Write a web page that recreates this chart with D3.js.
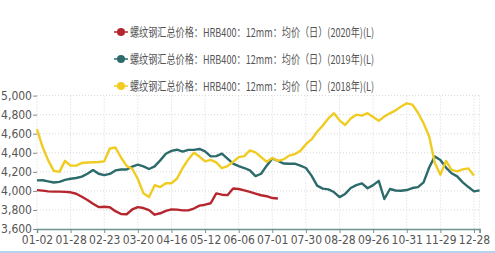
<!DOCTYPE html>
<html>
<head>
<script src="https://d3js.org/d3.v7.min.js"></script>
<style>
    body {
        margin: 0;
        background: #fff;
    }
    .narrow {
        font-family: "Liberation Sans Narrow", "DejaVu Sans Condensed", "Liberation Sans", sans-serif;
    }
</style>
</head>
<body>
<div id="chart"></div>
<script>
    var width = 495;
    var height = 253;

    // x axis: trading-day index, one label every 18 days
    var tickLabels = ["01-02", "01-28", "02-23", "03-20", "04-16", "05-12", "06-06",
        "07-01", "07-30", "08-28", "09-26", "10-31", "11-29", "12-28"];
    var labelEvery = 18;
    var lastIndex = 237;
    var step = 3; // values below were read every 3rd day

    var yTicks = [3600, 3800, 4000, 4200, 4400, 4600, 4800, 5000];

    var seriesNames = [
        "螺纹钢汇总价格：HRB400：12mm：均价（日）(2020年)(L)",
        "螺纹钢汇总价格：HRB400：12mm：均价（日）(2019年)(L)",
        "螺纹钢汇总价格：HRB400：12mm：均价（日）(2018年)(L)"
    ];
    var seriesColors = ["#b5262f", "#2c6a6b", "#f0cc22"];

    var price2020 = [4008, 4003, 3995, 3992, 3992, 3990, 3985, 3970, 3938, 3905,
        3866, 3830, 3834, 3828, 3787, 3757, 3755, 3805, 3830, 3820,
        3798, 3750, 3765, 3790, 3806, 3803, 3795, 3795, 3815, 3845,
        3855, 3870, 3974, 3960, 3955, 4025, 4020, 4005, 3990, 3972,
        3954, 3944, 3925, 3920];

    var price2019 = [4110, 4112, 4100, 4088, 4095, 4115, 4127, 4135, 4150, 4180,
        4218, 4180, 4165, 4178, 4215, 4225, 4225, 4255, 4275, 4258,
        4230, 4258, 4320, 4390, 4420, 4432, 4412, 4430, 4430, 4440,
        4415, 4362, 4365, 4390, 4338, 4285, 4260, 4240, 4215, 4155,
        4180, 4265, 4340, 4315, 4287, 4285, 4285, 4265, 4240, 4160,
        4055, 4024, 4016, 3988, 3935, 3968, 4030, 4060, 4078, 4028,
        4060, 4105, 3915, 4020, 4004, 4002, 4009, 4030, 4040, 4090,
        4245, 4362, 4325, 4245, 4185, 4152, 4090, 4040, 3995, 4005];

    var price2018 = [4645, 4460, 4320, 4210, 4200, 4315, 4265, 4265, 4293, 4298,
        4300, 4303, 4310, 4445, 4455, 4350, 4262, 4232, 4125, 3975,
        3935, 4060, 4040, 4080, 4080, 4130, 4240, 4330, 4400, 4360,
        4310, 4325, 4300, 4238, 4260, 4305, 4355, 4365, 4425, 4405,
        4355, 4306, 4345, 4315, 4330, 4370, 4385, 4420, 4490, 4540,
        4620, 4685, 4760, 4815, 4740, 4692, 4760, 4800, 4790, 4815,
        4775, 4735, 4780, 4814, 4845, 4885, 4919, 4905, 4820, 4710,
        4570, 4295, 4170, 4315, 4220, 4205, 4226, 4236, 4160];

    var allSeries = [price2020, price2019, price2018];

    var svg = d3.select("#chart")
        .append("svg")
        .attr("width", width)
        .attr("height", height);

    var x = d3.scaleLinear().domain([0, lastIndex]).range([37, 479.6]);
    var y = d3.scaleLinear().domain([3600, 5000]).range([229, 95.6]);

    // grid
    var tickIdx = tickLabels.map(function (d, i) { return i * labelEvery; });
    svg.append("g").selectAll("line")
        .data(yTicks.slice(1))
        .join("line")
        .attr("x1", x(0)).attr("x2", x(lastIndex))
        .attr("y1", function (d) { return y(d); })
        .attr("y2", function (d) { return y(d); })
        .attr("stroke", "#d8d8d8")
        .attr("stroke-dasharray", "1,2");
    svg.append("g").selectAll("line")
        .data(tickIdx.concat([lastIndex]))
        .join("line")
        .attr("x1", function (d) { return x(d); })
        .attr("x2", function (d) { return x(d); })
        .attr("y1", y(5000)).attr("y2", y(3600))
        .attr("stroke", "#d8d8d8")
        .attr("stroke-dasharray", "1,2");

    // y axis
    var yAxis = d3.axisLeft(y).tickValues(yTicks).tickSize(4).tickPadding(1)
        .tickFormat(d3.format(","));
    var gy = svg.append("g").attr("transform", "translate(" + x(0) + ",0)").call(yAxis);
    gy.select(".domain").remove();
    gy.selectAll(".tick line").attr("stroke", "#888");
    gy.selectAll("text").attr("class", "narrow").attr("font-size", 12).attr("fill", "#555");

    // x axis
    var xAxis = d3.axisBottom(x).tickValues(tickIdx.concat([lastIndex])).tickSize(4).tickPadding(2)
        .tickFormat(function (d) { return d === lastIndex ? "" : tickLabels[d / labelEvery]; });
    var gx = svg.append("g").attr("transform", "translate(0," + y(3600) + ")").call(xAxis);
    gx.select(".domain").attr("stroke", "#6f9393").attr("stroke-width", 1.5);
    gx.selectAll(".tick line").attr("stroke", "#6f9393");
    gx.selectAll("text").attr("class", "narrow").attr("font-size", 12).attr("fill", "#555");

    // lines
    var line = d3.line()
        .x(function (d, i) { return x(i * step); })
        .y(function (d) { return y(d); })
        .curve(d3.curveLinear);

    allSeries.forEach(function (s, k) {
        svg.append("path")
            .datum(s)
            .attr("fill", "none")
            .attr("stroke", seriesColors[k])
            .attr("stroke-width", 2.4)
            .attr("stroke-linejoin", "round")
            .attr("d", line);
    });

    // legend
    var legend = svg.append("g").selectAll("g")
        .data(seriesNames)
        .join("g")
        .attr("transform", function (d, i) { return "translate(121," + (32 + i * 27) + ")"; });
    legend.append("line")
        .attr("x1", -7).attr("x2", 7)
        .attr("stroke", function (d, i) { return seriesColors[i]; })
        .attr("stroke-width", 1.5);
    legend.append("circle")
        .attr("r", 4)
        .attr("fill", function (d, i) { return seriesColors[i]; });
    legend.append("text")
        .attr("x", 9).attr("y", 4.5)
        .attr("font-family", "'Noto Sans CJK SC', sans-serif")
        .attr("font-size", 12)
        .attr("fill", "#555")
        .attr("textLength", 244)
        .attr("lengthAdjust", "spacingAndGlyphs")
        .text(function (d) { return d; });

    // bottom frame strip
    svg.append("rect")
        .attr("x", 0).attr("y", 251).attr("width", width).attr("height", 2)
        .attr("fill", "#b3d3ee");
</script>
</body>
</html>
